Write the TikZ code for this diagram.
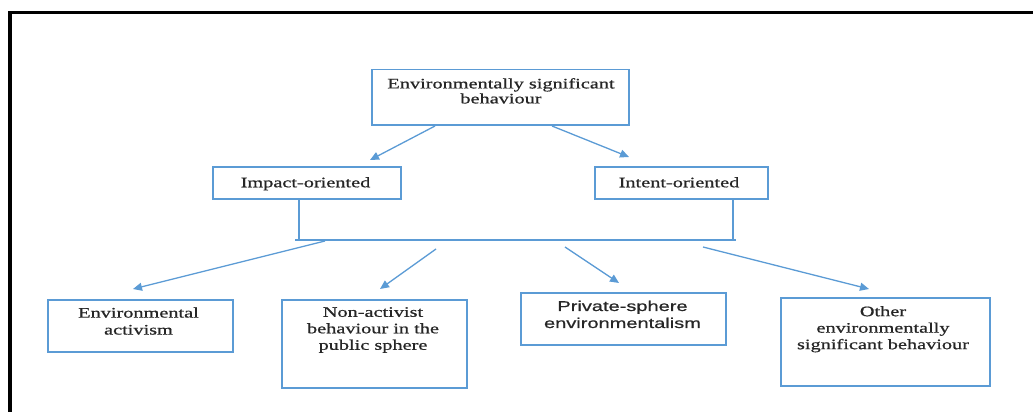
\documentclass[tikz,border=0pt]{standalone}
\usepackage{fontspec}
\setmainfont[FakeStretch=1.4,FakeBold=0.8]{Liberation Serif}
\newfontfamily\sansf[FakeStretch=1.41,FakeBold=0.8]{Liberation Sans}
\usetikzlibrary{arrows.meta}
\definecolor{lineblue}{HTML}{5B9BD5}
\begin{document}
\begin{tikzpicture}[x=1pt,y=-1pt,
  box/.style={draw=lineblue, line width=1.5pt, anchor=north west, inner sep=0pt},
  lbl/.style={anchor=north, inner sep=0pt, align=center, text=black!85},
  arr/.style={draw=lineblue, line width=1.3pt, -{Triangle[length=9pt,width=8pt]}},
  conn/.style={draw=lineblue, line width=1.8pt},
  frame/.style={draw=black, line width=3.3pt}]
\useasboundingbox (0,0) rectangle (1033,412);
% frame
\coordinate (fbl) at (10,414);
\coordinate (ftl) at (10,12.7);
\coordinate (ftr) at (1035,12.7);
\draw[frame] (fbl) -- (ftl) -- (ftr);
% boxes
\node[box, minimum width=257pt, minimum height=55pt] (top) at (371,69) {};
\node[box, minimum width=188pt, minimum height=32pt] (impact) at (212,166) {};
\node[box, minimum width=173pt, minimum height=32pt] (intent) at (594,166) {};
\node[box, minimum width=185pt, minimum height=52pt] (env) at (47,299) {};
\node[box, minimum width=185pt, minimum height=88pt] (nonact) at (281,299) {};
\node[box, minimum width=205pt, minimum height=52pt] (private) at (520,292) {};
\node[box, minimum width=209pt, minimum height=88pt] (other) at (780,297) {};
% labels
\node[lbl, font=\fontsize{14.5}{15}\selectfont] (ttop) at (501,78) {Environmentally significant\\behaviour};
\node[lbl, font=\fontsize{14.5}{17}\selectfont] (timpact) at (305.5,177) {Impact-oriented};
\node[lbl, font=\fontsize{14.5}{17}\selectfont] (tintent) at (679,177) {Intent-oriented};
\node[lbl, font=\fontsize{14.5}{17}\selectfont] (tenv) at (138.5,307.3) {Environmental\\activism};
\node[lbl, font=\fontsize{14.5}{16.5}\selectfont] (tnonact) at (373,307) {Non-activist\\behaviour in the\\public sphere};
\node[lbl, font=\sansf\fontsize{14.2}{17}\selectfont] (tprivate) at (622.5,300.5) {Private-sphere\\environmentalism};
\node[lbl, font=\fontsize{14.5}{16.5}\selectfont] (tother) at (883,305.9) {Other\\environmentally\\significant behaviour};
% bracket
\coordinate (bl) at (299,240);
\coordinate (br) at (733,240);
\coordinate (bls) at (295,240);
\coordinate (brs) at (736,240);
\draw[conn] (impact.south -| bl) -- (bl);
\draw[conn] (intent.south -| br) -- (br);
\draw[draw=lineblue, line width=1.5pt] (bls) -- (brs);
% arrow coordinates
\coordinate (a1s) at (435,126);
\coordinate (a1e) at (370,160);
\coordinate (a2s) at (552,126);
\coordinate (a2e) at (629,157);
\coordinate (b1s) at (325,241);
\coordinate (b1e) at (133,289);
\coordinate (b2s) at (436,249);
\coordinate (b2e) at (380,289);
\coordinate (b3s) at (565,247);
\coordinate (b3e) at (619,283);
\coordinate (b4s) at (703,247);
\coordinate (b4e) at (869,289);
\draw[arr] (a1s) -- (a1e);
\draw[arr] (a2s) -- (a2e);
\draw[arr] (b1s) -- (b1e);
\draw[arr] (b2s) -- (b2e);
\draw[arr] (b3s) -- (b3e);
\draw[arr] (b4s) -- (b4e);
\end{tikzpicture}
\end{document}
